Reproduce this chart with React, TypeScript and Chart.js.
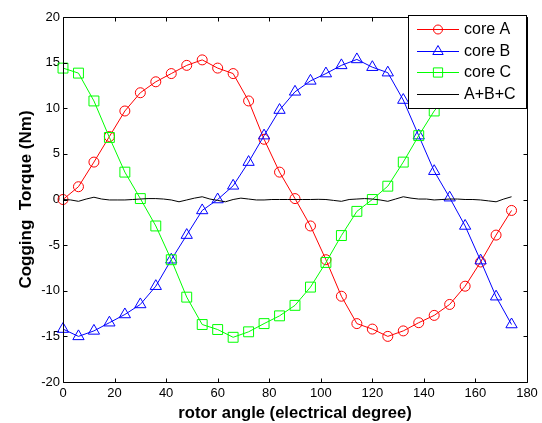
import React, { useEffect, useRef } from "react";
import { Chart, registerables } from "chart.js";

Chart.register(...registerables);

const angles = [0, 6, 12, 18, 24, 30, 36, 42, 48, 54, 60, 66, 72, 78, 84, 90, 96, 102, 108, 114, 120, 126, 132, 138, 144, 150, 156, 162, 168, 174];
const coreA = [0, 1.4, 4.1, 6.9, 9.7, 11.7, 12.9, 13.8, 14.7, 15.3, 14.4, 13.8, 10.8, 6.6, 3.0, 0.1, -2.9, -6.6, -10.6, -13.6, -14.2, -15.0, -14.4, -13.5, -12.7, -11.5, -9.5, -6.85, -3.9, -1.2];
const coreB = [-14.2, -15.0, -14.4, -13.5, -12.6, -11.5, -9.5, -6.6, -3.9, -1.2, 0, 1.5, 4.1, 7.0, 9.8, 11.8, 13.0, 13.8, 14.7, 15.35, 14.5, 13.9, 10.9, 7.0, 3.1, 0.2, -2.9, -6.7, -10.65, -13.7];
const coreC = [14.4, 13.85, 10.8, 6.8, 3.0, 0.1, -2.9, -6.6, -10.7, -13.7, -14.25, -15.1, -14.5, -13.6, -12.75, -11.6, -9.6, -6.9, -3.95, -1.3, 0, 1.46, 4.1, 7.0, 9.7, 11.7, 12.9, 13.8, 14.7, 15.3];
const sumAngles = [0, 3, 6, 9, 12, 15, 18, 21, 24, 27, 30, 33, 36, 39, 42, 45, 48, 51, 54, 57, 60, 63, 66, 69, 72, 75, 78, 81, 84, 87, 90, 93, 96, 99, 102, 105, 108, 111, 114, 117, 120, 123, 126, 129, 132, 135, 138, 141, 144, 147, 150, 153, 156, 159, 162, 165, 168, 171, 174];
const sumABC = [0, -0.05, -0.2, 0.05, 0.25, 0.05, -0.05, -0.05, -0.05, 0, 0.05, 0.1, 0.1, 0.05, -0.05, -0.25, -0.05, 0.15, 0.3, 0.05, -0.1, -0.25, 0, 0.15, 0.05, -0.05, -0.05, 0, 0, 0, 0, 0, 0, 0.02, 0, -0.1, -0.2, 0, 0.05, 0.1, 0.05, -0.05, -0.2, 0.05, 0.3, 0.15, 0.05, 0.05, -0.05, 0, 0.05, 0.05, 0, 0, -0.05, -0.15, -0.25, 0.05, 0.3];
const seriesNames = ["core A", "core B", "core C", "A+B+C"];
const xTitle = "rotor angle (electrical degree)";
const yTitle = "Cogging  Torque (Nm)";

const FONT = "'Liberation Sans', Arial, Helvetica, sans-serif";

function drawMarker(ctx: CanvasRenderingContext2D, style: string, x: number, y: number, r: number) {
  ctx.beginPath();
  if (style === "circle") {
    ctx.arc(x, y, r, 0, Math.PI * 2);
  } else if (style === "triangle") {
    ctx.moveTo(x, y - r);
    ctx.lineTo(x + r * 0.866, y + r * 0.5);
    ctx.lineTo(x - r * 0.866, y + r * 0.5);
    ctx.closePath();
  } else if (style === "rect") {
    const s = r * Math.SQRT1_2;
    ctx.rect(x - s, y - s, 2 * s, 2 * s);
  }
  ctx.stroke();
}

const framePlugin = {
  id: "matlabFrame",
  afterDatasetsDraw(chart: any) {
    const { ctx, chartArea } = chart;
    const { left, right, top, bottom } = chartArea;
    const xs = chart.scales.x;
    const ys = chart.scales.y;
    ctx.save();
    ctx.strokeStyle = "#000";
    ctx.lineWidth = 1;
    const L = Math.round(left) + 0.5;
    const R = Math.round(right) + 0.5;
    const T = Math.round(top) + 0.5;
    const B = Math.round(bottom) + 0.5;
    ctx.beginPath();
    ctx.rect(L, T, R - L, B - T);
    ctx.stroke();
    const tl = 4;
    ctx.beginPath();
    xs.ticks.forEach((t: any) => {
      const px = Math.round(xs.getPixelForValue(t.value)) + 0.5;
      ctx.moveTo(px, B);
      ctx.lineTo(px, B - tl);
      ctx.moveTo(px, T);
      ctx.lineTo(px, T + tl);
    });
    ys.ticks.forEach((t: any) => {
      const py = Math.round(ys.getPixelForValue(t.value)) + 0.5;
      ctx.moveTo(L, py);
      ctx.lineTo(L + tl, py);
      ctx.moveTo(R, py);
      ctx.lineTo(R - tl, py);
    });
    ctx.stroke();

    // legend box
    const bx = 408.5, by = 15.5, bw = 118, bh = 93;
    ctx.fillStyle = "#fff";
    ctx.fillRect(bx, by, bw, bh);
    ctx.strokeRect(bx, by, bw, bh);
    const rows = [29, 51, 72, 94];
    ctx.font = "16px " + FONT;
    ctx.textBaseline = "middle";
    ctx.textAlign = "left";
    [0, 1, 2, 3].forEach((i, k) => {
      const ds = chart.data.datasets[i];
      const y = rows[k] + 0.5;
      ctx.strokeStyle = ds.borderColor;
      ctx.lineWidth = 1;
      ctx.beginPath();
      ctx.moveTo(417, y);
      ctx.lineTo(459, y);
      ctx.stroke();
      if (ds.pointStyle && ds.pointRadius > 0) {
        const r = ds.pointStyle === "circle" ? 4.5 : ds.pointStyle === "triangle" ? 6 : 6.5;
        drawMarker(ctx, ds.pointStyle, 438, y, r);
      }
      ctx.fillStyle = "#000";
      ctx.fillText(ds.label, 464, rows[k] + 1);
    });
    ctx.restore();
  },
};

export default function App() {
  const ref = useRef<HTMLCanvasElement | null>(null);
  useEffect(() => {
    if (!ref.current) return;
    const mk = (vals: number[], xsArr: number[]) => vals.map((v, i) => ({ x: xsArr[i], y: v }));
    const chart = new Chart(ref.current, {
      type: "line",
      data: {
        datasets: [
          {
            label: seriesNames[0],
            data: mk(coreA, angles),
            borderColor: "#ff0000",
            backgroundColor: "rgba(0,0,0,0)",
            borderWidth: 1,
            pointStyle: "circle",
            pointRadius: 5,
            pointBorderWidth: 1,
            pointBackgroundColor: "rgba(0,0,0,0)",
            pointBorderColor: "#ff0000",
            clip: false,
            order: 3,
          },
          {
            label: seriesNames[1],
            data: mk(coreB, angles),
            borderColor: "#0000ff",
            backgroundColor: "rgba(0,0,0,0)",
            borderWidth: 1,
            pointStyle: "triangle",
            pointRadius: 6.5,
            pointBorderWidth: 1,
            pointBackgroundColor: "rgba(0,0,0,0)",
            pointBorderColor: "#0000ff",
            clip: false,
            order: 2,
          },
          {
            label: seriesNames[2],
            data: mk(coreC, angles),
            borderColor: "#00ff00",
            backgroundColor: "rgba(0,0,0,0)",
            borderWidth: 1,
            pointStyle: "rect",
            pointRadius: 7,
            pointBorderWidth: 1,
            pointBackgroundColor: "rgba(0,0,0,0)",
            pointBorderColor: "#00ff00",
            clip: false,
            order: 1,
          },
          {
            label: seriesNames[3],
            data: mk(sumABC, sumAngles),
            borderColor: "#000000",
            backgroundColor: "rgba(0,0,0,0)",
            borderWidth: 1,
            pointRadius: 0,
            clip: false,
            order: 0,
          },
        ],
      },
      options: {
        responsive: false,
        animation: false,
        devicePixelRatio: 1,
        layout: { padding: { top: 17, right: 15, left: 0, bottom: 0 } },
        plugins: {
          legend: { display: false },
          tooltip: { enabled: false },
        },
        elements: { line: { tension: 0 } },
        scales: {
          x: {
            type: "linear",
            min: 0,
            max: 180,
            ticks: { stepSize: 20, padding: 4, color: "#000", font: { size: 13, family: FONT }, maxRotation: 0 },
            grid: { display: false, drawTicks: false },
            border: { display: false },
            title: { display: true, text: xTitle, color: "#000", font: { size: 16.6, weight: "bold", family: FONT }, padding: { top: 0, bottom: 0 } },
            afterFit: (s: any) => { s.height = 41; },
          },
          y: {
            type: "linear",
            min: -20,
            max: 20,
            ticks: { stepSize: 5, padding: 3, color: "#000", font: { size: 13, family: FONT } },
            grid: { display: false, drawTicks: false },
            border: { display: false },
            title: { display: true, text: yTitle, color: "#000", font: { size: 17, weight: "bold", family: FONT }, padding: { top: 16, bottom: 0 } },
            afterFit: (s: any) => { s.width = 63; },
          },
        },
      },
      plugins: [framePlugin],
    } as any);
    return () => chart.destroy();
  }, []);
  return (
    <div style={{ position: "absolute", left: 0, top: 0, width: 542, height: 423, background: "#fff" }}>
      <canvas ref={ref} width={542} height={423} style={{ display: "block" }} />
    </div>
  );
}
